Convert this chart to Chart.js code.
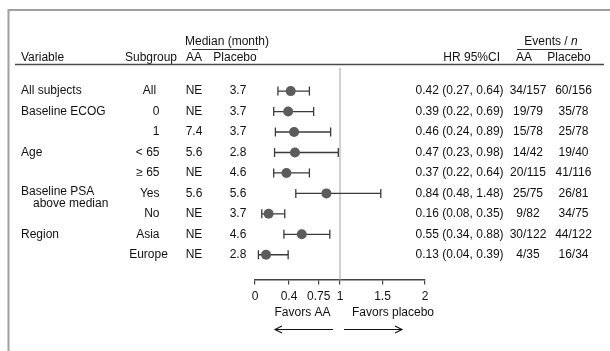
<!DOCTYPE html>
<html>
<head>
<meta charset="utf-8">
<script src="https://cdn.jsdelivr.net/npm/chart.js@4/dist/chart.umd.min.js"></script>
<style>
  html, body { margin: 0; padding: 0; background: #fff; }
  #wrap { width: 610px; height: 351px; position: relative; }
</style>
</head>
<body>
<div id="wrap"><canvas id="c" width="610" height="351"></canvas></div>
<script>
// ---- data ----
const variables = ['All subjects', 'Baseline ECOG', '', 'Age', '', 'Baseline PSA', '', 'Region', ''];
const variableSub = ['', '', '', '', '', 'above median', '', '', ''];
const subgroups = ['All', '0', '1', '< 65', '\u2265 65', 'Yes', 'No', 'Asia', 'Europe'];
const medianAA = ['NE', 'NE', '7.4', '5.6', 'NE', '5.6', 'NE', 'NE', 'NE'];
const medianPlacebo = ['3.7', '3.7', '3.7', '2.8', '4.6', '5.6', '3.7', '4.6', '2.8'];
const hr = [0.42, 0.39, 0.46, 0.47, 0.37, 0.84, 0.16, 0.55, 0.13];
const ciLow = [0.27, 0.22, 0.24, 0.23, 0.22, 0.48, 0.08, 0.34, 0.04];
const ciHigh = [0.64, 0.69, 0.89, 0.98, 0.64, 1.48, 0.35, 0.88, 0.39];
const eventsAA = ['34/157', '19/79', '15/78', '14/42', '20/115', '25/75', '9/82', '30/122', '4/35'];
const eventsPlacebo = ['60/156', '35/78', '25/78', '19/40', '41/116', '26/81', '34/75', '44/122', '16/34'];
const xTicks = [0, 0.4, 0.75, 1, 1.5, 2];
const xTickLabels = ['0', '0.4', '0.75', '1', '1.5', '2'];

const FONT = "'Liberation Sans', Arial, Helvetica, sans-serif";
const TXT = '#111';

const points = hr.map((v, i) => ({ x: v, y: i }));

const errorBars = {
  id: 'errorBars',
  beforeDatasetsDraw(chart) {
    const ctx = chart.ctx, xs = chart.scales.x, ys = chart.scales.y;
    ctx.save();
    // reference line at HR = 1
    const x1 = xs.getPixelForValue(1);
    ctx.strokeStyle = '#c4c4c4';
    ctx.lineWidth = 1.6;
    ctx.beginPath();
    ctx.moveTo(x1, chart.chartArea.top);
    ctx.lineTo(x1, chart.chartArea.bottom);
    ctx.stroke();
    ctx.strokeStyle = '#3a3a3a';
    ctx.lineWidth = 1.3;
    for (let i = 0; i < hr.length; i++) {
      const y = ys.getPixelForValue(i);
      const a = xs.getPixelForValue(ciLow[i]);
      const b = xs.getPixelForValue(ciHigh[i]);
      ctx.beginPath();
      ctx.moveTo(a, y); ctx.lineTo(b, y);
      ctx.moveTo(a, y - 4.5); ctx.lineTo(a, y + 4.5);
      ctx.moveTo(b, y - 4.5); ctx.lineTo(b, y + 4.5);
      ctx.stroke();
    }
    ctx.restore();
  }
};

const tableText = {
  id: 'tableText',
  afterDraw(chart) {
    const ctx = chart.ctx, xs = chart.scales.x, ys = chart.scales.y;
    ctx.save();
    // frame (top + left)
    ctx.strokeStyle = '#a0a0a0';
    ctx.lineWidth = 2;
    ctx.beginPath();
    ctx.moveTo(8.5, 351); ctx.lineTo(8.5, 10); ctx.lineTo(610, 10);
    ctx.stroke();

    ctx.fillStyle = TXT;
    ctx.font = '12px ' + FONT;
    ctx.textBaseline = 'middle';

    // header
    const hY1 = 42, hY2 = 58;
    ctx.textAlign = 'center';
    ctx.fillText('Median (month)', 227, hY1);
    // Events / n with italic n
    ctx.textAlign = 'left';
    const ev = 'Events / ';
    const evW = ctx.measureText(ev).width;
    ctx.font = 'italic 12px ' + FONT;
    const nW = ctx.measureText('n').width;
    ctx.font = '12px ' + FONT;
    const evX = 551 - (evW + nW) / 2;
    ctx.fillText(ev, evX, hY1);
    ctx.font = 'italic 12px ' + FONT;
    ctx.fillText('n', evX + evW, hY1);
    ctx.font = '12px ' + FONT;

    ctx.strokeStyle = '#333';
    ctx.lineWidth = 1;
    ctx.beginPath();
    ctx.moveTo(192, 49.5); ctx.lineTo(258, 49.5);
    ctx.moveTo(517, 49.5); ctx.lineTo(582, 49.5);
    ctx.stroke();

    ctx.textAlign = 'left';
    ctx.fillText('Variable', 21, hY2);
    ctx.textAlign = 'center';
    ctx.fillText('Subgroup', 151, hY2);
    ctx.fillText('AA', 194, hY2);
    ctx.fillText('Placebo', 235, hY2);
    ctx.textAlign = 'right';
    ctx.fillText('HR 95%CI', 500, hY2);
    ctx.textAlign = 'center';
    ctx.fillText('AA', 524, hY2);
    ctx.fillText('Placebo', 569, hY2);

    ctx.strokeStyle = '#4a4a4a';
    ctx.lineWidth = 1.6;
    ctx.beginPath();
    ctx.moveTo(15, 64.5); ctx.lineTo(604, 64.5);
    ctx.stroke();

    // rows
    for (let i = 0; i < hr.length; i++) {
      const y = ys.getPixelForValue(i);
      ctx.textAlign = 'left';
      if (variables[i]) {
        const off = variableSub[i] ? -1.5 : 0;
        ctx.fillText(variables[i], 21, y + off);
      }
      if (variableSub[i]) ctx.fillText(variableSub[i], 33, y + 10.5);
      if (subgroups[i] === 'Europe') {
        ctx.textAlign = 'center';
        ctx.fillText(subgroups[i], 148.5, y);
      } else if (subgroups[i] === 'All') {
        ctx.textAlign = 'center';
        ctx.fillText(subgroups[i], 149.5, y);
      } else {
        ctx.textAlign = 'right';
        ctx.fillText(subgroups[i], 159.5, y);
      }
      ctx.textAlign = 'center';
      ctx.fillText(medianAA[i], 194, y);
      ctx.fillText(medianPlacebo[i], 238, y);
      ctx.textAlign = 'left';
      ctx.fillText(hr[i].toFixed(2) + ' (' + ciLow[i].toFixed(2) + ', ' + ciHigh[i].toFixed(2) + ')', 415.5, y);
      ctx.textAlign = 'center';
      ctx.fillText(eventsAA[i], 528, y);
      ctx.fillText(eventsPlacebo[i], 573.5, y);
    }

    // favors labels + arrows
    const x1 = xs.getPixelForValue(1);
    ctx.textAlign = 'center';
    ctx.fillText('Favors AA', x1 - 37.5, 313);
    ctx.fillText('Favors placebo', x1 + 53, 313);
    const ay = 329.5;
    ctx.strokeStyle = '#111';
    ctx.lineWidth = 1.1;
    ctx.beginPath();
    ctx.moveTo(x1 - 7, ay); ctx.lineTo(x1 - 65, ay);
    ctx.moveTo(x1 - 58, ay - 3.5); ctx.lineTo(x1 - 65, ay); ctx.lineTo(x1 - 58, ay + 3.5);
    ctx.moveTo(x1 + 4, ay); ctx.lineTo(x1 + 62, ay);
    ctx.moveTo(x1 + 55, ay - 3.5); ctx.lineTo(x1 + 62, ay); ctx.lineTo(x1 + 55, ay + 3.5);
    ctx.stroke();
    ctx.restore();
  }
};

Chart.defaults.font.family = FONT;
Chart.defaults.font.size = 12;
Chart.defaults.color = TXT;

new Chart(document.getElementById('c'), {
  type: 'scatter',
  data: {
    datasets: [{
      data: points,
      backgroundColor: '#5c5c5c',
      borderColor: '#5c5c5c',
      pointRadius: 5,
      pointHoverRadius: 5,
      borderWidth: 0
    }]
  },
  options: {
    responsive: false,
    animation: false,
    devicePixelRatio: 1,
    layout: { padding: { left: 255, right: 185, top: 68, bottom: 42 } },
    plugins: { legend: { display: false }, tooltip: { enabled: false } },
    scales: {
      x: {
        type: 'linear',
        min: 0,
        max: 2,
        afterBuildTicks(scale) { scale.ticks = xTicks.map(v => ({ value: v })); },
        ticks: {
          autoSkip: false,
          maxRotation: 0,
          padding: 5,
          color: TXT,
          font: { size: 12 },
          callback(v) { const k = xTicks.indexOf(v); return k >= 0 ? xTickLabels[k] : ''; }
        },
        grid: { drawOnChartArea: false, drawTicks: true, tickLength: 5, color: '#444', lineWidth: 1.2 },
        border: { display: true, color: '#444', width: 1.5 }
      },
      y: {
        type: 'linear',
        min: -1.13,
        max: 9.215,
        reverse: true,
        display: false
      }
    }
  },
  plugins: [errorBars, tableText]
});
</script>
</body>
</html>
